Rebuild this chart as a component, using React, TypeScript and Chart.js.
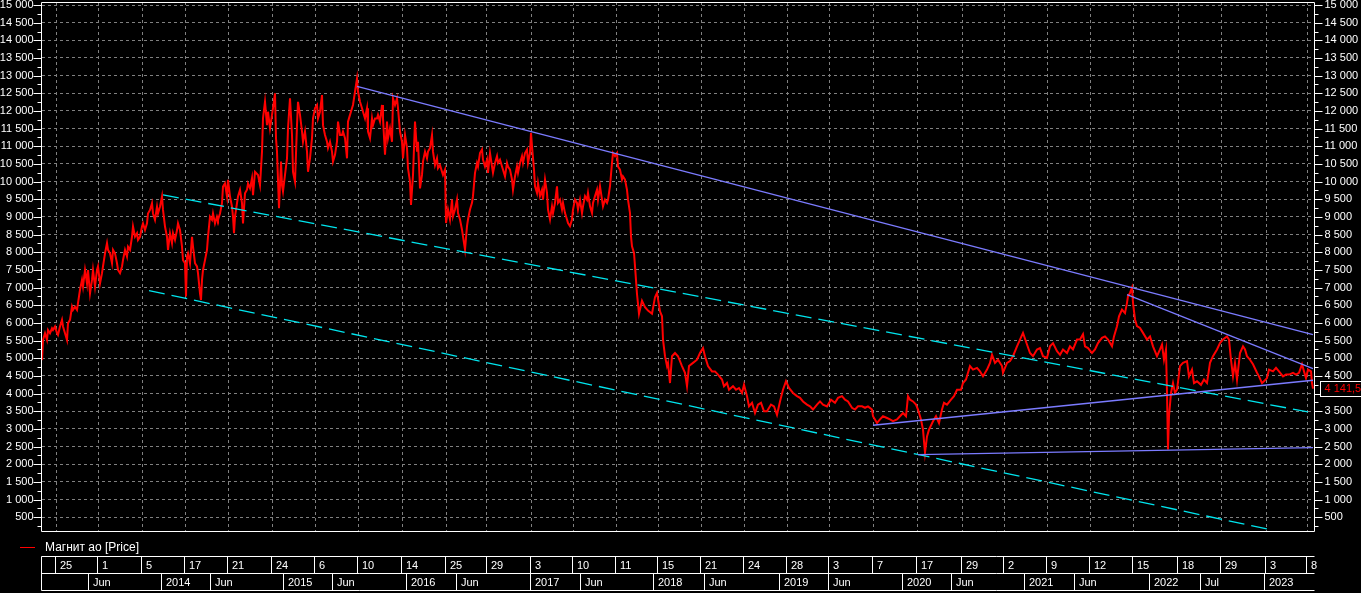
import React, { useEffect, useRef } from "react";
import { Chart, registerables } from "chart.js";

Chart.register(...registerables);

// ---------- DATA ----------
const seriesName = "Магнит ао [Price]";
const lastPriceLabel = "4 141,5";

// [session index, price]
const priceSeries: [number, number][] = [
  [0,4950],[1,5520],[3,5710],[5,5520],[6,5800],[8,5710],[10,5850],[11,5800],[13,5900],[15,5710],[16,5660],[18,5900],[20,6090],[21,5900],[23,5710],[25,5520],[26,5990],[28,6090],[30,6460],[31,6370],[33,6460],[35,6370],[36,6560],[38,6940],[40,7220],[41,7030],[43,7500],[45,7120],[46,7500],[48,6840],[50,7220],[51,7500],[53,7030],[55,7500],[56,7600],[58,7120],[60,7410],[61,7600],[63,7970],[65,8260],[66,8070],[68,7970],[70,7690],[71,8070],[73,7970],[75,7690],[76,7500],[78,7410],[80,7600],[81,7780],[83,8070],[85,7880],[86,8160],[88,8070],[90,8440],[91,8730],[93,8440],[95,8540],[96,8350],[98,8440],[100,8730],[101,8820],[103,8630],[105,8820],[106,9100],[108,9200],[110,9390],[111,9100],[113,8920],[115,9290],[116,9100],[118,9290],[120,9580],[121,9200],[123,8730],[125,8440],[126,8070],[128,8540],[130,8260],[131,8540],[133,8350],[135,8630],[136,8820],[138,8630],[140,8160],[141,7780],[143,7690],[144,6750],[145,7880],[146,7970],[148,7690],[150,8440],[151,8160],[153,7690],[155,7600],[156,7410],[158,6840],[159,6650],[160,7220],[161,7500],[163,7780],[165,8070],[166,8440],[168,9010],[170,8920],[171,9100],[173,8820],[175,9010],[176,8920],[178,9100],[180,9390],[181,9860],[183,9950],[185,9580],[186,10050],[188,9580],[190,9290],[191,9010],[192,8540],[193,9010],[195,9390],[196,9580],[198,9770],[200,9390],[201,8820],[203,9670],[205,9770],[206,9950],
  [208,9810],[210,10100],[211,9620],[213,10280],[216,10190],[218,9900],[220,10850],[221,11790],[223,12260],[225,11600],[226,11980],[228,11510],[230,11890],[231,12080],[233,12500],[234,11230],[235,10850],[237,9250],[239,10570],[240,9900],[241,9720],[243,10190],[245,10660],[246,11510],[248,12360],[250,11320],[251,10280],[253,10000],[255,11600],[256,12260],[258,11890],[260,11420],[261,11130],[263,11420],[265,10850],[266,10280],[268,10660],[270,11230],[271,11790],[273,12080],[275,12170],[276,11790],[278,11980],[280,12450],[281,11600],[283,11320],[285,11130],[286,10950],[288,11130],[290,10850],[291,10570],[293,10760],[295,11130],[296,11700],[298,11320],[300,11320],[301,11420],[303,11230],[305,10660],[306,11700],[308,11890],[310,12080],[311,12170],[313,12550],[315,12920],[316,12550],[318,12260],[320,12080],[321,11980],[323,11790],[325,12080],[326,11420],[328,11230],[330,11790],[331,11600],[333,11790],[335,11790],[336,11890],[338,11700],[340,12170],[341,11790],[343,10760],[345,11700],[346,11230],[348,11510],[350,11130],[351,12360],[353,12170],[355,12360],[356,12080],[358,11420],[360,11130],[361,10660],[363,11320],[365,10950],[366,10380],[368,10000],[369,9340],[371,10190],[373,11700],[375,10850],[376,11130],[378,9810],[380,10190],[381,10570],[383,10850],[385,10660],[386,10850],[388,10950],[390,11320],[391,10850],[393,10470],[395,10660],[396,10380],[398,10470],[400,10280],[401,10190],
  [403,10340],[404,8830],[406,9210],[408,8930],[410,9490],[411,9020],[413,9210],[415,9490],[416,9110],[418,8930],[420,8640],[421,8450],[423,8080],[425,8740],[426,8930],[428,9210],[430,9400],[431,9590],[433,10250],[435,10530],[436,10430],[438,10810],[440,10910],[441,10620],[443,10430],[445,10620],[446,10250],[448,10810],[450,10430],[451,10250],[453,10530],[455,10720],[456,10530],[458,10620],[460,10430],[461,10340],[463,10150],[465,10530],[466,10430],[468,10340],[470,10060],[471,9770],[473,10150],[475,10430],[476,10250],[478,10530],[480,10720],[481,10530],[483,10810],[485,10910],[486,10530],[488,10810],[489,11380],[490,11000],[492,10340],[493,9870],[495,9680],[496,9960],[498,9590],[500,9770],[501,9490],[503,10060],[505,9680],[506,9210],[508,8930],[510,9300],[511,9110],[513,9400],[515,9870],[516,9400],[518,9490],[520,9210],[521,9400],[523,9110],[525,8930],[526,8830],[528,8740],[530,8930],[531,9210],[533,9490],[535,9400],[536,9210],[538,9490],[540,9110],[541,9300],[543,9590],[545,9490],[546,9680],[548,9300],[550,9110],[551,9400],[553,9590],[555,9770],[556,9490],[558,9870],[560,9490],[561,9300],[563,9490],[565,9400],[566,9490],[568,9870],[570,10530],[571,10810],[573,10720],[575,10810],[576,10430],[578,10340],[580,10060],[581,10150],[583,10060],[585,9770],[586,9490],[588,9110],[589,8450],[590,8170],[592,7980],[593,7610],
  [595,6820],[597,6260],[600,6630],[603,6450],[606,6350],[610,6260],[613,6730],[615,6850],[618,6330],[620,6190],[621,5530],[623,5060],[625,4780],[626,4870],[628,4300],[630,5060],[633,5150],[636,5060],[640,4780],[643,4590],[645,4210],[647,4780],[651,4870],[655,4960],[658,5150],[661,5290],[663,5060],[666,4780],[670,4630],[673,4630],[676,4540],[680,4400],[682,4210],[685,4300],[687,4110],[691,4210],[694,4110],[697,4160],[700,4020],[702,4250],[705,3930],[707,3640],[710,3740],[713,3450],[716,3690],[719,3740],[722,3500],[725,3500],[729,3690],[732,3640],[735,3400],[738,3780],[741,4110],[744,4350],[747,4160],[751,4020],[755,3930],[758,3880],[761,3780],[765,3690],[768,3640],[771,3550],[775,3690],[778,3780],[781,3690],[785,3640],[789,3830],[793,3740],[796,3880],[800,3930],[803,3830],[806,3780],[810,3600],[813,3550],[816,3640],[820,3640],[823,3600],[826,3640],[830,3550],[831,3360],[835,3170],[838,3270],[841,3360],[845,3310],[848,3270],[851,3220],[855,3270],[858,3360],[861,3450],[864,3360],[866,3930],[868,3830],[871,3780],[874,3690],[876,3550],[879,3270],[881,2980],[883,2330],[885,2790],[887,2980],[891,3220],[894,3360],[897,3170],[900,3550],[902,3740],[905,3690],[909,3830],[912,3930],[915,4110],[919,4110],[921,4300],[924,4400],[928,4780],[931,4680],[935,4730],[938,4630],[941,4490],[945,4680],[948,4870],[950,5100],[953,4870],[956,4960],[960,4780],[961,4590],[965,4870],[968,4920],[971,5060],[975,5340],[978,5530],[981,5720],[985,5390],[988,5150],[991,5060],[995,5250],[998,5290],[1001,5060],[1005,5010],[1008,5340],[1011,5430],[1015,5200],[1018,5100],[1021,5250],[1025,5150],[1028,5340],[1031,5250],[1035,5530],[1038,5530],[1041,5680],[1043,5340],[1046,5290],[1050,5150],[1053,5250],[1056,5430],[1060,5580],[1063,5620],[1066,5530],[1070,5340],[1072,5620],[1075,5910],[1077,6190],[1080,6380],[1083,6280],[1085,6570],[1086,6760],[1088,6850],[1090,7000],[1091,6570],[1093,6100],[1095,5910],[1098,5860],[1101,5720],[1105,5530],[1108,5620],[1111,5340],[1115,5060],[1118,5250],[1120,5390],[1122,4960],[1124,5250],[1125,4020],[1126,2420],[1127,3360],[1129,4020],[1131,4300],[1133,4020],[1135,4110],[1138,4780],[1141,4870],[1145,4920],[1147,4490],[1150,4680],[1152,4300],[1155,4350],[1159,4250],[1162,4400],[1165,4300],[1168,4870],[1171,5060],[1175,5250],[1178,5430],[1181,5530],[1185,5620],[1187,5530],[1189,4960],[1191,4490],[1193,4870],[1195,4400],[1198,5150],[1201,5340],[1203,5250],[1205,5060],[1208,4960],[1211,4830],[1215,4590],[1217,4490],[1220,4300],[1222,4350],[1225,4440],[1227,4680],[1231,4630],[1234,4730],[1237,4630],[1241,4490],[1244,4540],[1247,4540],[1251,4590],[1254,4540],[1257,4590],[1260,4830],[1262,4630],[1264,4440],[1266,4680],[1269,4630],[1270,4300],[1271,4141.5]
];

const xMin = 0;
const xMax = 1273;
const yMin = 84;
const yMax = 15085;

const dayTickPos = [14,56,100,143,186,230,273,316,360,404,445,489,531,574,616,659,702,745,787,831,875,920,962,1005,1048,1091,1136,1179,1224,1265];
const dayTickLabels = ["25","1","5","17","21","24","6","10","14","25","29","3","10","11","15","21","24","28","3","7","17","29","2","9","12","15","18","29","3","8"];

const monthPos = [47,120,169,242,291,365,415,489,539,612,663,738,787,861,910,983,1033,1108,1159,1223];
const monthLabels = ["Jun","2014","Jun","2015","Jun","2016","Jun","2017","Jun","2018","Jun","2019","Jun","2020","Jun","2021","Jun","2022","Jul","2023"];

const yTickValues = [500,1000,1500,2000,2500,3000,3500,4000,4500,5000,5500,6000,6500,7000,7500,8000,8500,9000,9500,10000,10500,11000,11500,12000,12500,13000,13500,14000,14500,15000];
const yMinorValues = [250,750,1250,1750,2250,2750,3250,3750,4250,4750,5250,5750,6250,6750,7250,7750,8250,8750,9250,9750,10250,10750,11250,11750,12250,12750,13250,13750,14250,14750];

const blueLines: [number, number][][] = [
  [[315, 12700], [1271, 5670]],
  [[1085, 6800], [1271, 4710]],
  [[831, 3106], [1271, 4379]],
  [[876, 2276], [1271, 2474]],
];
const cyanLines: [number, number][][] = [
  [[121, 9624], [1266, 3483]],
  [[107, 6917], [1230, 140]],
];

// ---------- STYLE ----------
const FONT = "11px 'Liberation Sans', Arial, sans-serif";
const RED = "#ff0000";
const BLUE = "#7b7bff";
const CYAN = "#00e5ee";
const GRID = "#808080";

function fmtThousands(v: number): string {
  if (v < 1000) return String(v);
  const th = Math.floor(v / 1000);
  const rest = String(v % 1000).padStart(3, "0");
  return `${th} ${rest}`;
}

const overlayPlugin = {
  id: "overlay",
  beforeDraw(chart: any) {
    const { ctx, width, height } = chart;
    ctx.save();
    ctx.fillStyle = "#000";
    ctx.fillRect(0, 0, width, height);
    ctx.restore();
  },
  afterDraw(chart: any) {
    const { ctx, chartArea: a, scales } = chart;
    const xs = scales.x;
    const ys = scales.y;
    ctx.save();
    ctx.font = FONT;
    ctx.strokeStyle = "#ffffff";
    ctx.lineWidth = 1;
    ctx.setLineDash([]);

    // frame
    const L = Math.round(a.left) - 0.5;
    const R = Math.round(a.right) - 0.5;
    const T = Math.round(a.top) + 0.5;
    const B = Math.round(a.bottom) - 0.5;
    ctx.beginPath();
    ctx.moveTo(L, T); ctx.lineTo(R, T); ctx.lineTo(R, B); ctx.lineTo(L, B); ctx.closePath();
    ctx.stroke();

    // y ticks + labels, both sides
    ctx.fillStyle = "#ffffff";
    ctx.textBaseline = "middle";
    const drawTick = (v: number, len: number) => {
      const yy = Math.round(ys.getPixelForValue(v)) + 0.5;
      ctx.beginPath();
      ctx.moveTo(L - len, yy); ctx.lineTo(L, yy);
      ctx.moveTo(R, yy); ctx.lineTo(R + len, yy);
      ctx.stroke();
    };
    yMinorValues.forEach((v) => drawTick(v, 4));
    yTickValues.forEach((v) => {
      drawTick(v, 8);
      const yy = ys.getPixelForValue(v);
      const s = fmtThousands(v);
      ctx.textAlign = "right";
      ctx.fillText(s, L - 8, yy);
      ctx.textAlign = "left";
      ctx.fillText(s, R + 10, yy);
    });

    // last price badge
    const last = priceSeries[priceSeries.length - 1];
    const ly = ys.getPixelForValue(last[1]);
    ctx.fillStyle = "#000";
    ctx.fillRect(R + 6, Math.round(ly) - 7.5, 60, 15);
    ctx.strokeStyle = "#ffffff";
    ctx.strokeRect(R + 6, Math.round(ly) - 7.5, 60, 15);
    ctx.fillStyle = RED;
    ctx.textAlign = "left";
    ctx.fillText(lastPriceLabel, R + 10, ly + 0.5);

    // legend
    const legY = Math.round(a.bottom) + 15;
    ctx.fillStyle = RED;
    ctx.fillRect(20, legY, 15, 1);
    ctx.fillStyle = "#ffffff";
    ctx.font = "12px 'Liberation Sans', Arial, sans-serif";
    ctx.fillText(seriesName, 45, legY + 0.5);
    ctx.font = FONT;

    // date table
    const r0 = Math.round(a.bottom) + 25 - 0.5;
    const r1 = r0 + 17;
    const r2 = r1 + 17;
    ctx.strokeStyle = "#ffffff";
    ctx.beginPath();
    [r0, r1, r2].forEach((yy) => { ctx.moveTo(L, yy); ctx.lineTo(R, yy); });
    ctx.moveTo(L, r0); ctx.lineTo(L, r2);
    dayTickPos.forEach((t) => {
      const xx = Math.round(xs.getPixelForValue(t)) - 0.5;
      ctx.moveTo(xx, r0); ctx.lineTo(xx, r1);
    });
    monthPos.forEach((t) => {
      const xx = Math.round(xs.getPixelForValue(t)) - 0.5;
      ctx.moveTo(xx, r1); ctx.lineTo(xx, r2);
    });
    ctx.stroke();

    ctx.save();
    ctx.beginPath();
    ctx.rect(L, r0, R - L + 3, r2 - r0);
    ctx.clip();
    ctx.fillStyle = "#ffffff";
    ctx.textAlign = "left";
    dayTickPos.forEach((t, i) => {
      const xx = Math.round(xs.getPixelForValue(t));
      ctx.fillText(dayTickLabels[i], xx + 4, (r0 + r1) / 2 + 0.5);
    });
    monthPos.forEach((t, i) => {
      const xx = Math.round(xs.getPixelForValue(t));
      ctx.fillText(monthLabels[i], xx + 4, (r1 + r2) / 2 + 0.5);
    });
    ctx.restore();

    ctx.restore();
  },
};

export default function App() {
  const canvasRef = useRef<HTMLCanvasElement | null>(null);

  useEffect(() => {
    document.body.style.margin = "0";
    document.body.style.background = "#000";
    const canvas = canvasRef.current;
    if (!canvas) return;

    const lineDs = (pts: [number, number][], color: string, dash: number[]) => ({
      type: "line" as const,
      data: pts.map(([x, y]) => ({ x, y })),
      borderColor: color,
      borderWidth: 1.3,
      borderDash: dash,
      pointRadius: 0,
      fill: false,
      tension: 0,
    });

    const datasets: any[] = [
      ...blueLines.map((l) => lineDs(l, BLUE, [])),
      ...cyanLines.map((l) => lineDs(l, CYAN, [16, 7])),
      {
        label: seriesName,
        data: priceSeries.map(([x, y]) => ({ x, y })),
        borderColor: RED,
        borderWidth: 2,
        pointRadius: 0,
        fill: false,
        tension: 0,
      },
    ];

    const chart = new Chart(canvas, {
      type: "line",
      data: { datasets },
      options: {
        animation: false,
        responsive: false,
        maintainAspectRatio: false,
        layout: { padding: { left: 0, right: 46, top: 2, bottom: 0 } },
        plugins: { legend: { display: false }, tooltip: { enabled: false } },
        scales: {
          x: {
            type: "linear",
            min: xMin,
            max: xMax,
            ticks: { display: false },
            grid: { color: GRID, lineWidth: 1, drawTicks: false },
            border: { display: false, dash: [3, 3] },
            afterBuildTicks: (scale: any) => {
              scale.ticks = dayTickPos.map((v) => ({ value: v }));
            },
            afterFit: (scale: any) => {
              scale.height = 61;
            },
          },
          y: {
            type: "linear",
            position: "left",
            min: yMin,
            max: yMax,
            ticks: { display: false },
            grid: { color: GRID, lineWidth: 1, drawTicks: false },
            border: { display: false, dash: [3, 3] },
            afterBuildTicks: (scale: any) => {
              scale.ticks = yTickValues.map((v) => ({ value: v }));
            },
            afterFit: (scale: any) => {
              scale.width = 42;
            },
          },
        },
      },
      plugins: [overlayPlugin],
    });

    return () => chart.destroy();
  }, []);

  return (
    <div style={{ width: 1361, height: 593, background: "#000" }}>
      <canvas ref={canvasRef} width={1361} height={593} style={{ display: "block" }} />
    </div>
  );
}
